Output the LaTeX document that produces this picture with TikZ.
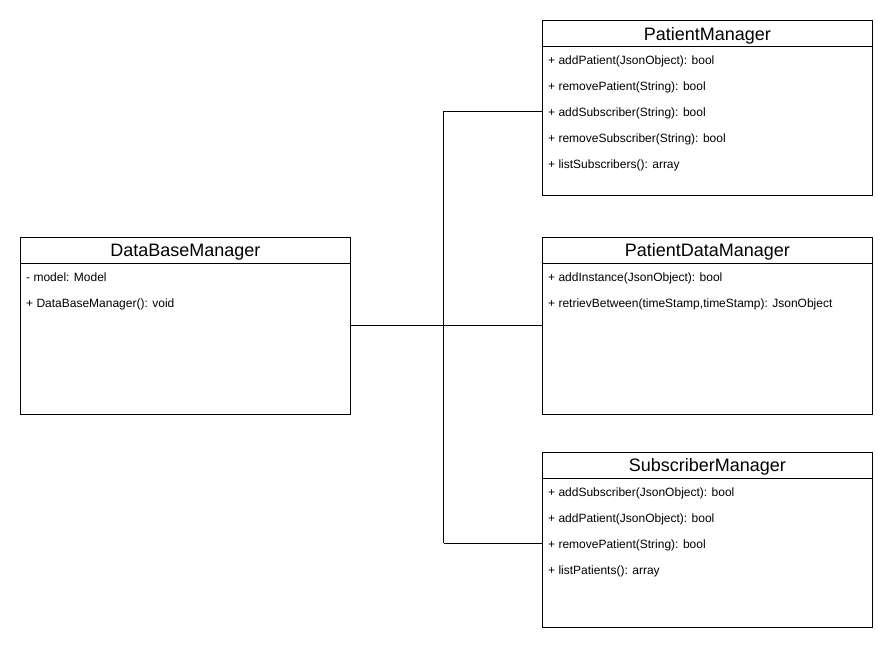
\documentclass[tikz,border=0pt]{standalone}
\usepackage{fontspec}
\setmainfont{Liberation Sans}
\begin{document}
\begin{tikzpicture}[x=1pt,y=-1pt,
  classbox/.style={draw=black,line width=1pt,rectangle,anchor=north west,minimum width=330pt,inner sep=0pt,outer sep=0pt},
  classtitle/.style={anchor=base,inner sep=0pt,font=\fontsize{18}{20}\selectfont},
  member/.style={anchor=base west,inner sep=0pt,font=\fontsize{12}{14}\selectfont},
  link/.style={draw=black,line width=1pt}]
\useasboundingbox[fill=white] (0,0) rectangle (893,649);
% boxes
\node[classbox,minimum height=175pt] (pm) at (542.3,20.7) {};
\node[classbox,minimum height=176.7pt] (dbm) at (20.3,237.3) {};
\node[classbox,minimum height=176.7pt] (pdm) at (542.3,237.3) {};
\node[classbox,minimum height=175.5pt] (sm) at (542.3,452.3) {};
% header lines
\draw[line width=1pt] (542.3,46.3) -- (872.3,46.3);
\draw[line width=1pt] (20.3,263.3) -- (350.3,263.3);
\draw[line width=1pt] (542.3,263.3) -- (872.3,263.3);
\draw[line width=1pt] (542.3,478.3) -- (872.3,478.3);
% titles
\node[classtitle] (pmt) at (707.3,40.2) {PatientManager};
\node[classtitle] (dbmt) at (185.3,256.8) {DataBaseManager};
\node[classtitle] (pdmt) at (707.3,256.8) {PatientDataManager};
\node[classtitle] (smt) at (707.3,471.8) {SubscriberManager};
% members PatientManager
\node[member] (pm1) at (548,64.3) {+ addPatient(JsonObject): bool};
\node[member] (pm2) at (548,90.3) {+ removePatient(String): bool};
\node[member] (pm3) at (548,116.3) {+ addSubscriber(String): bool};
\node[member] (pm4) at (548,142.3) {+ removeSubscriber(String): bool};
\node[member] (pm5) at (548,168.3) {+ listSubscribers(): array};
% members DataBaseManager
\node[member] (dbm1) at (26,281) {- model: Model};
\node[member] (dbm2) at (26,307) {+ DataBaseManager(): void};
% members PatientDataManager
\node[member] (pdm1) at (548,281) {+ addInstance(JsonObject): bool};
\node[member] (pdm2) at (548,307) {+ retrievBetween(timeStamp,timeStamp): JsonObject};
% members SubscriberManager
\node[member] (sm1) at (548,496) {+ addSubscriber(JsonObject): bool};
\node[member] (sm2) at (548,522) {+ addPatient(JsonObject): bool};
\node[member] (sm3) at (548,548) {+ removePatient(String): bool};
\node[member] (sm4) at (548,574) {+ listPatients(): array};
% connectors
\coordinate (jt) at (443.7,111.3);
\coordinate (jb) at (443.7,543.3);
\draw[link] (dbm.east) -- (pdm.west);
\draw[link] (jt) -- (jb);
\draw[link] (jt) -- (pm.west |- jt);
\draw[link] (jb) -- (sm.west |- jb);
\end{tikzpicture}
\end{document}
